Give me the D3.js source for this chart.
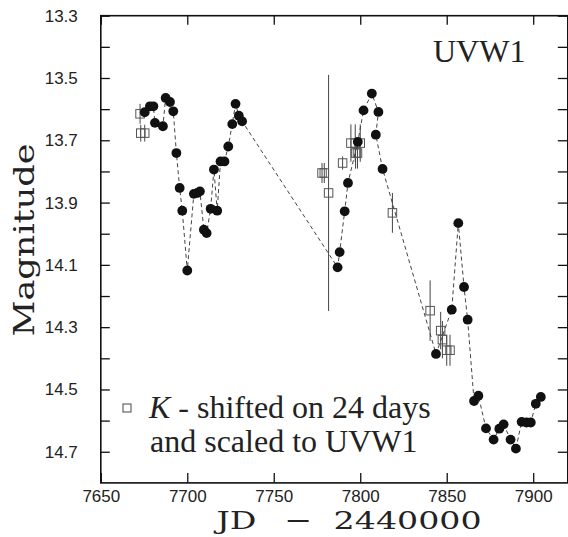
<!DOCTYPE html>
<html>
<head>
<meta charset="utf-8">
<script src="https://cdn.jsdelivr.net/npm/d3@7"></script>
<style>
  html, body { margin: 0; padding: 0; background: #fff; }
  svg { display: block; }
</style>
</head>
<body>
<svg id="chart" width="568" height="537"></svg>
<script>
// ---- data ----
const circleJD = [7675.4, 7678.4, 7680.4, 7681.3, 7685.9, 7687.5, 7690.0, 7691.9, 7693.7, 7695.6,
  7697.1, 7700.0, 7703.8, 7705.8, 7707.3, 7709.6, 7711.2, 7713.5, 7715.4, 7717.3,
  7719.2, 7721.5, 7723.7, 7726.0, 7727.9, 7729.8, 7731.7,
  7786.9, 7788.1, 7791.0, 7792.9, 7798.6, 7801.9, 7806.7, 7810.5, 7809.0, 7812.9,
  7843.8, 7852.9, 7856.7, 7860.0, 7862.1, 7865.8, 7868.3, 7872.7, 7877.1, 7880.4,
  7882.9, 7886.9, 7890.0, 7893.3, 7896.1, 7898.6, 7901.5, 7904.4];
const circleMag = [13.610, 13.591, 13.591, 13.644, 13.655, 13.564, 13.577, 13.607, 13.741, 13.853,
  13.926, 14.118, 13.872, 13.869, 13.864, 13.987, 13.998, 13.920, 13.794, 13.926,
  13.768, 13.768, 13.720, 13.648, 13.583, 13.621, 13.639,
  14.108, 14.059, 13.928, 13.837, 13.705, 13.604, 13.550, 13.609, 13.682, 13.792,
  14.386, 14.244, 13.966, 14.171, 14.276, 14.537, 14.520, 14.625, 14.661, 14.626,
  14.612, 14.661, 14.690, 14.604, 14.606, 14.606, 14.546, 14.524];

const squareJD  = [7672.7, 7673.1, 7675.4, 7777.9, 7779.2, 7781.7, 7789.8, 7794.6, 7797.1, 7800.0,
  7797.3, 7798.4, 7818.6, 7840.4, 7846.5, 7847.5, 7850.0, 7851.9];
const squareMag = [13.615, 13.677, 13.677, 13.805, 13.805, 13.869, 13.773, 13.709, 13.709, 13.709,
  13.741, 13.741, 13.933, 14.247, 14.311, 14.340, 14.374, 14.374];
const squareErr = [0.032, 0.027, 0.027, 0.032, 0.032, 0.379, 0.021, 0.060, 0.060, 0.060,
  0.050, 0.050, 0.064, 0.097, 0.060, 0.060, 0.050, 0.050];

const xTicks = [7650, 7700, 7750, 7800, 7850, 7900];
const yTicks = [13.3, 13.4, 13.5, 13.6, 13.7, 13.8, 13.9, 14.0, 14.1, 14.2, 14.3, 14.4, 14.5, 14.6, 14.7];
const yLabels = [13.3, 13.5, 13.7, 13.9, 14.1, 14.3, 14.5, 14.7];

const bandLabel = "UVW1";
const legendLine1Italic = "K";
const legendLine1Rest = " - shifted on 24 days";
const legendLine2 = "and scaled to UVW1";
const xTitleParts = ["JD", "\u2212", "2440000"];
const yTitle = "Magnitude";

// ---- layout ----
const svg = d3.select("#chart");
const mLeft = 100.8, mRight = 567.8, mTop = 15.7, mBottom = 482.9;
const x = d3.scaleLinear().domain([7650, 7920]).range([mLeft, mRight]);
const y = d3.scaleLinear().domain([13.3, 14.8]).range([mTop, mBottom]);

const circles = circleJD.map((d, i) => ({ jd: d, mag: circleMag[i] }));
const squares = squareJD.map((d, i) => ({ jd: d, mag: squareMag[i], err: squareErr[i] }));

const tickFont = "'Liberation Sans', Arial, sans-serif";

function styleAxis(g) {
  g.select(".domain").remove();
  g.selectAll(".tick line").attr("stroke", "#111").attr("stroke-width", 1.3);
  g.selectAll(".tick text").attr("font-family", tickFont).attr("font-size", 17).attr("fill", "#222");
}

// left axis
svg.append("g").attr("transform", `translate(${mLeft},0)`)
  .call(d3.axisLeft(y).tickValues(yTicks).tickSizeInner(-9).tickSizeOuter(0).tickPadding(23)
    .tickFormat(v => yLabels.some(l => Math.abs(l - v) < 1e-6) ? d3.format(".1f")(v) : ""))
  .call(styleAxis);
// right axis
svg.append("g").attr("transform", `translate(${mRight},0)`)
  .call(d3.axisRight(y).tickValues(yTicks).tickSizeInner(-10).tickSizeOuter(0).tickFormat(""))
  .call(styleAxis);
// bottom axis
svg.append("g").attr("transform", `translate(0,${mBottom})`)
  .call(d3.axisBottom(x).tickValues(xTicks).tickSizeInner(-10).tickSizeOuter(0).tickPadding(7)
    .tickFormat(d3.format("d")))
  .call(styleAxis);
// top axis
svg.append("g").attr("transform", `translate(0,${mTop})`)
  .call(d3.axisTop(x).tickValues(xTicks).tickSizeInner(-9).tickSizeOuter(0).tickFormat(""))
  .call(styleAxis);

// frame
svg.append("rect").attr("x", mLeft).attr("y", mTop)
  .attr("width", mRight - mLeft).attr("height", mBottom - mTop)
  .attr("fill", "none").attr("stroke", "#111").attr("stroke-width", 1.6);

// error bars
svg.append("g").selectAll("line").data(squares).join("line")
  .attr("x1", d => x(d.jd)).attr("x2", d => x(d.jd))
  .attr("y1", d => y(d.mag - d.err)).attr("y2", d => y(d.mag + d.err))
  .attr("stroke", "#444").attr("stroke-width", 1);

// squares
const sq = 8.5;
svg.append("g").selectAll("rect").data(squares).join("rect")
  .attr("x", d => x(d.jd) - sq / 2).attr("y", d => y(d.mag) - sq / 2)
  .attr("width", sq).attr("height", sq)
  .attr("fill", "none").attr("stroke", "#555").attr("stroke-width", 1);

// dashed connecting line
svg.append("path").datum(circles)
  .attr("d", d3.line().x(d => x(d.jd)).y(d => y(d.mag)))
  .attr("fill", "none").attr("stroke", "#444").attr("stroke-width", 1)
  .attr("stroke-dasharray", "4,3");

// filled circles
svg.append("g").selectAll("circle").data(circles).join("circle")
  .attr("cx", d => x(d.jd)).attr("cy", d => y(d.mag)).attr("r", 4.9)
  .attr("fill", "#111");

// band label
const serif = "'Liberation Serif', 'Times New Roman', serif";
svg.append("text").attr("x", 433).attr("y", 62)
  .attr("font-family", serif).attr("font-size", 32).attr("fill", "#222")
  .text(bandLabel);

// legend
svg.append("rect").attr("x", 127 - 4).attr("y", 408 - 4).attr("width", 8).attr("height", 8)
  .attr("fill", "none").attr("stroke", "#444").attr("stroke-width", 1);
const l1 = svg.append("text").attr("x", 149).attr("y", 418)
  .attr("font-family", serif).attr("font-size", 32).attr("fill", "#222");
l1.append("tspan").attr("font-style", "italic").text(legendLine1Italic);
l1.append("tspan").text(legendLine1Rest);
svg.append("text").attr("x", 150).attr("y", 452)
  .attr("font-family", serif).attr("font-size", 32).attr("fill", "#222")
  .text(legendLine2);

// axis titles
const titleFont = "'DejaVu Serif', serif";
const xt = svg.append("text").attr("transform", "translate(216.5,529) scale(1.33,1)")
  .attr("font-family", titleFont).attr("font-size", 25).attr("fill", "#222");
const xtPos = [0, (284.6 - 216.5) / 1.33, (333.6 - 216.5) / 1.33];
xTitleParts.forEach((t, i) => xt.append("tspan").attr("x", xtPos[i]).text(t));

svg.append("text").attr("transform", "translate(34,240) rotate(-90) scale(1.3,1)")
  .attr("text-anchor", "middle")
  .attr("font-family", titleFont).attr("font-size", 27).attr("fill", "#222")
  .text(yTitle);
</script>
</body>
</html>
